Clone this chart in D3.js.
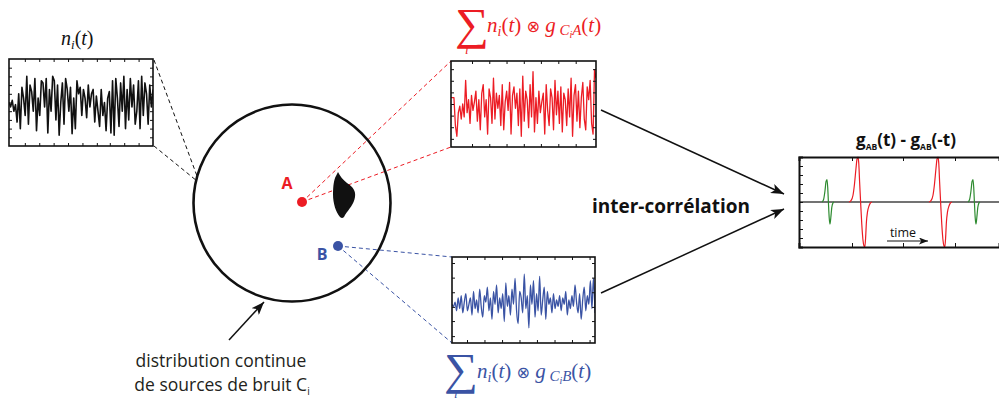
<!DOCTYPE html>
<html><head><meta charset="utf-8">
<script src="https://cdn.jsdelivr.net/npm/d3@7"></script>
<style>body{margin:0;background:#fff}svg{display:block}</style>
</head><body>
<svg id="c" width="999" height="400"></svg>
<script>
// ---------- data ----------
const noiseBlack = [0.0,-0.1,0.05,-0.2,-0.05,-0.45,0.2,-0.6,0.35,0.1,-0.3,0.6,-0.5,0.4,0.25,-0.2,0.55,-0.65,0.1,-0.3,0.5,0.45,-0.1,0.55,-0.7,0.3,-0.2,0.6,0.5,-0.4,0.4,-0.75,0.0,0.45,-0.5,0.55,0.3,-0.2,0.35,-0.72,0.1,-0.6,0.5,0.2,0.35,-0.3,0.3,0.1,-0.35,0.4,-0.1,0.2,0.3,-0.45,0.15,-0.2,-0.55,0.3,-0.3,0.0,-0.65,0.1,0.25,-0.7,0.5,-0.75,0.55,0.1,-0.55,0.45,-0.2,0.6,-0.6,0.3,-0.4,0.55,-0.1,0.4,-0.5,-0.2,0.5,-0.6,0.6,-0.3,0.45,0.2,-0.5,0.4,-0.1,0.3];
const noiseRed = [0.15,0.15,0.15,-0.5,-0.75,-0.2,-0.05,-0.35,0.0,-0.3,0.55,-0.2,0.1,-0.45,0.2,-0.15,0.05,0.3,-0.4,0.1,-0.6,0.25,0.45,-0.3,0.1,-0.7,0.35,0.15,-0.45,0.6,-0.35,0.25,-0.1,0.2,-0.5,0.45,-0.6,0.05,0.3,-0.15,0.5,-0.7,0.2,0.4,-0.1,0.25,-0.5,0.35,-0.75,0.65,-0.4,0.3,0.1,-0.55,0.45,-0.3,0.75,-0.65,0.15,-0.45,0.3,-0.2,0.05,0.25,-0.7,0.45,-0.15,-0.5,0.35,0.15,-0.6,0.55,-0.25,0.3,-0.45,0.4,-0.65,0.25,0.1,-0.5,0.35,-0.3,0.6,-0.75,0.2,0.45,-0.4,0.3,-0.55,0.15,0.5,-0.35,-0.6,0.4,0.1,0.55,-0.45,-0.7,0.8,0.6];
const noiseBlue = [-0.1,-0.15,-0.05,-0.25,0.05,-0.2,0.1,-0.3,-0.05,0.15,-0.25,-0.1,0.05,-0.35,0.2,-0.2,0.0,-0.3,0.25,-0.15,-0.4,0.1,-0.05,0.3,-0.25,0.05,-0.45,0.2,-0.1,0.35,-0.3,0.05,-0.2,0.15,-0.5,0.4,-0.15,0.1,-0.35,0.25,-0.1,0.5,-0.25,-0.55,0.2,0.05,-0.3,0.6,-0.2,0.1,-0.65,0.35,-0.1,0.45,-0.4,0.15,-0.25,0.55,-0.35,0.0,0.3,-0.45,0.2,-0.1,0.05,-0.3,0.15,-0.2,0.0,-0.15,0.1,-0.25,0.05,-0.1,0.2,-0.35,0.0,-0.2,0.1,-0.15,0.35,-0.05,-0.3,0.15,-0.45,0.0,0.3,-0.25,0.1,-0.1,0.45,-0.2,0.5,-0.3];

const blackXTicks = [0.11,0.21,0.31,0.41,0.51,0.61,0.70,0.80,0.90];
const blackYTicks = [-0.8,-0.6,-0.4,-0.2,0,0.2,0.4,0.6,0.8];
const redXTicks = [0.145,0.264,0.383,0.502,0.62,0.74,0.86];
const redYTicks = [-0.81,-0.54,-0.27,0,0.27,0.54,0.81];
const blueXTicks = [0.105,0.227,0.35,0.472,0.594,0.717,0.839,0.962];
const blueYTicks = [-0.84,-0.49,-0.16,0.18,0.52,0.86];

// correlation panel: pulse shapes (time offset, amplitude) and pulse centres
const redPulse = [[-9,0],[-7,0.03],[-5,0.15],[-3.5,0.4],[-2,0.75],[-1,0.95],[0,1],[0.8,0.85],[1.6,0.45],[2.6,0],[3.8,-0.5],[5,-0.85],[6,-0.98],[6.8,-1],[7.6,-0.8],[8.4,-0.45],[9.5,-0.22],[11,-0.09],[12.5,-0.02],[14,0]];
const greenPulse = [[-5,0],[-3.5,0.05],[-2,0.25],[-1,0.45],[0,0.5],[0.7,0.33],[1.4,0],[2.2,-0.35],[3,-0.49],[3.8,-0.35],[4.8,-0.12],[6,-0.02],[7,0]];
const redCentres = [-41, 39];
const greenCentres = [-72, 74];
const corrYTicks = [-0.8,-0.6,-0.4,-0.2,0,0.2,0.4,0.6,0.8];
const corrXTicks = [-47, 4, 56];

const RED = "#ec1c24", BLUE = "#3a53a4", GREEN = "#2e8b30";
const SANS = "'Open Sans', 'Noto Sans', sans-serif";
const SERIF = "'Liberation Serif', 'DejaVu Serif', serif";

// ---------- drawing ----------
const svg = d3.select("#c");
const defs = svg.append("defs");
function marker(id, len, wid, color){
  defs.append("marker").attr("id", id).attr("markerUnits","userSpaceOnUse")
    .attr("markerWidth", len).attr("markerHeight", wid)
    .attr("refX", len).attr("refY", wid/2).attr("orient","auto")
    .append("path").attr("d", `M0,0 L${len},${wid/2} L0,${wid} L${len*0.25},${wid/2} Z`).attr("fill", color);
}
marker("ah", 13, 10, "#111");
marker("ahs", 9, 7, "#111");

function signalBox(id, data, box, color, xt, yt, lw, curve){
  const x = d3.scaleLinear().domain([0, data.length-1]).range([box.x0, box.x1]);
  const xf = d3.scaleLinear().domain([0,1]).range([box.x0, box.x1]);
  const y = d3.scaleLinear().domain([-1,1]).range([box.y1, box.y0]);
  defs.append("clipPath").attr("id", id).append("rect")
    .attr("x", box.x0).attr("y", box.y0).attr("width", box.x1-box.x0).attr("height", box.y1-box.y0);
  const g = svg.append("g");
  g.append("path").datum(data).attr("clip-path", `url(#${id})`)
    .attr("d", d3.line().x((d,i)=>x(i)).y(d=>y(d)).curve(curve))
    .attr("fill","none").attr("stroke", color).attr("stroke-width", lw).attr("stroke-linejoin","round");
  const axes = [
    [d3.axisTop(xf).tickValues(xt), `translate(0,${box.y0})`],
    [d3.axisBottom(xf).tickValues(xt), `translate(0,${box.y1})`],
    [d3.axisLeft(y).tickValues(yt), `translate(${box.x0},0)`],
    [d3.axisRight(y).tickValues(yt), `translate(${box.x1},0)`]
  ];
  axes.forEach(([ax, tr]) => {
    const a = g.append("g").attr("transform", tr).call(ax.tickSize(-3).tickFormat(""));
    a.select(".domain").remove();
    a.selectAll("line").attr("stroke","#111").attr("stroke-width",1);
  });
  g.append("rect").attr("x", box.x0).attr("y", box.y0).attr("width", box.x1-box.x0).attr("height", box.y1-box.y0)
    .attr("fill","none").attr("stroke","#111").attr("stroke-width",1.6);
}

// dashed connectors
function dashed(x1,y1,x2,y2,color){
  svg.append("line").attr("x1",x1).attr("y1",y1).attr("x2",x2).attr("y2",y2)
    .attr("stroke",color).attr("stroke-width",1).attr("stroke-dasharray","4,3");
}
dashed(154,60,197,176,"#111");
dashed(154,146,197,181,"#111");
dashed(302,202,451,61,RED);
dashed(302,202,451,147,RED);
dashed(338,246,452,257,BLUE);
dashed(338,246,452,343,BLUE);

signalBox("cb", noiseBlack, {x0:9,x1:153,y0:59,y1:146}, "#111", blackXTicks, blackYTicks, 1.6, d3.curveLinear);
signalBox("cr", noiseRed, {x0:451,x1:596,y0:61,y1:147}, RED, redXTicks, redYTicks, 1.3, d3.curveLinear);
signalBox("cu", noiseBlue, {x0:452,x1:595,y0:257,y1:343}, BLUE, blueXTicks, blueYTicks, 1.3, d3.curveMonotoneX);

// circle of sources
svg.append("circle").attr("cx",292).attr("cy",203).attr("r",98.5)
  .attr("fill","none").attr("stroke","#111").attr("stroke-width",2.6);
svg.append("path").attr("d","M338,172 C340,176 343,180 347,183 C353,187 356,191 355,197 C354,204 349,209 345,215 C344,218 342,219 340,217 C336,212 333,204 333,194 C333,186 334,179 336,176 Z")
  .attr("fill","#111");
svg.append("circle").attr("cx",302).attr("cy",202).attr("r",5).attr("fill",RED);
svg.append("circle").attr("cx",338).attr("cy",246).attr("r",5).attr("fill",BLUE);
svg.append("text").attr("x",287).attr("y",189).attr("text-anchor","middle").attr("font-family",SANS)
  .attr("font-weight","bold").attr("font-size",16).attr("fill",RED).text("A");
svg.append("text").attr("x",322).attr("y",260).attr("text-anchor","middle").attr("font-family",SANS)
  .attr("font-weight","bold").attr("font-size",16).attr("fill",BLUE).text("B");

// arrows
function arrow(x1,y1,x2,y2,m,w){
  svg.append("line").attr("x1",x1).attr("y1",y1).attr("x2",x2).attr("y2",y2)
    .attr("stroke","#111").attr("stroke-width",w).attr("marker-end",`url(#${m})`);
}
arrow(229,340,264,302,"ah",1.5);
arrow(601,110,784,194,"ah",1.5);
arrow(601,293,784,209,"ah",1.5);

// texts
const t1 = svg.append("text").attr("font-family",SANS).attr("font-size",17.5).attr("fill","#231f20").attr("text-anchor","middle");
t1.append("tspan").attr("x",221).attr("y",367).text("distribution continue");
t1.append("tspan").attr("x",222).attr("y",391).text("de sources de bruit C");
t1.append("tspan").attr("font-size",10).attr("dy",4).text("i");
svg.append("text").attr("x",671).attr("y",213).attr("text-anchor","middle").attr("font-family",SANS)
  .attr("font-weight","bold").attr("font-size",19).attr("fill","#111").text("inter-corrélation");

// formulas
function formula(x, y, color, sub, sx, sy, iy){
  svg.append("text").attr("transform",`translate(${sx},${sy}) scale(1.4,1.3)`)
    .attr("font-family",SERIF).attr("font-size",34).attr("fill",color).text("∑");
  svg.append("text").attr("x",sx+10).attr("y",iy).attr("font-family",SERIF).attr("font-style","italic").attr("font-size",13)
    .attr("fill",color).text("i");
  const t = svg.append("text").attr("x",x).attr("y",y).attr("font-family",SERIF).attr("font-style","italic")
    .attr("font-size",21).attr("fill",color);
  t.append("tspan").text("n");
  t.append("tspan").attr("font-size",14).attr("dy",4).text("i");
  t.append("tspan").attr("dy",-4).attr("font-style","normal").text("(");
  t.append("tspan").text("t");
  t.append("tspan").attr("font-style","normal").text(") ");
  t.append("tspan").attr("font-style","normal").attr("font-family","'DejaVu Sans', sans-serif").attr("font-size",16).text("⊗");
  t.append("tspan").text(" g");
  t.append("tspan").attr("font-size",15).attr("dy",3).text(" C");
  t.append("tspan").attr("font-size",10).attr("dy",3).text("i");
  t.append("tspan").attr("font-size",15).attr("dy",-3).text(sub);
  t.append("tspan").attr("dy",-3).attr("font-style","normal").text("(");
  t.append("tspan").text("t");
  t.append("tspan").attr("font-style","normal").text(")");
}
formula(487, 32, RED, "A", 455, 39, 54);
formula(477, 378, BLUE, "B", 444, 384, 398);

const ni = svg.append("text").attr("x",61).attr("y",45).attr("font-family",SERIF).attr("font-style","italic")
  .attr("font-size",20).attr("fill","#111");
ni.append("tspan").text("n");
ni.append("tspan").attr("font-size",13).attr("dy",4).text("i");
ni.append("tspan").attr("dy",-4).attr("font-style","normal").text("(");
ni.append("tspan").text("t");
ni.append("tspan").attr("font-style","normal").text(")");

// correlation panel
const cx = d3.scaleLinear().domain([-100,100]).range([799,999]);
const cy = d3.scaleLinear().domain([-1,1]).range([247,157]);
const cg = svg.append("g");
cg.append("line").attr("x1",cx(-100)).attr("x2",cx(100)).attr("y1",cy(0)).attr("y2",cy(0))
  .attr("stroke","#444").attr("stroke-width",1.4);
const pl = d3.line().x(d=>cx(d[0])).y(d=>cy(d[1])).curve(d3.curveMonotoneX);
redCentres.forEach(c => cg.append("path").datum(redPulse.map(p=>[c+p[0], p[1]])).attr("d", pl)
  .attr("fill","none").attr("stroke",RED).attr("stroke-width",1.2));
greenCentres.forEach(c => cg.append("path").datum(greenPulse.map(p=>[c+p[0], p[1]])).attr("d", pl)
  .attr("fill","none").attr("stroke",GREEN).attr("stroke-width",1.2));
[[d3.axisTop(cx), `translate(0,${cy(1)})`, corrXTicks],[d3.axisBottom(cx), `translate(0,${cy(-1)})`, corrXTicks]].forEach(([ax,tr,tv])=>{
  const a = cg.append("g").attr("transform",tr).call(ax.tickValues(tv).tickSize(-4).tickFormat(""));
  a.select(".domain").attr("stroke","#111").attr("stroke-width",2);
  a.selectAll("line").attr("stroke","#111");
});
const la = cg.append("g").attr("transform",`translate(${cx(-100)},0)`).call(d3.axisLeft(cy).tickValues(corrYTicks).tickSize(-4).tickFormat(""));
la.select(".domain").attr("stroke","#111").attr("stroke-width",2);
la.selectAll("line").attr("stroke","#111");

const tt = svg.append("text").attr("x",906).attr("y",146).attr("text-anchor","middle").attr("font-family",SANS)
  .attr("font-weight","bold").attr("font-size",17).attr("fill","#111");
tt.append("tspan").text("g");
tt.append("tspan").attr("font-size",8.5).attr("dy",4).text("AB");
tt.append("tspan").attr("dy",-4).text("(t) - g");
tt.append("tspan").attr("font-size",8.5).attr("dy",4).text("AB");
tt.append("tspan").attr("dy",-4).text("(-t)");
svg.append("text").attr("x",903).attr("y",237).attr("text-anchor","middle").attr("font-family",SANS)
  .attr("font-size",12.5).attr("fill","#111").text("time");
arrow(887,241,928,241,"ahs",1.2);
</script>
</body></html>
